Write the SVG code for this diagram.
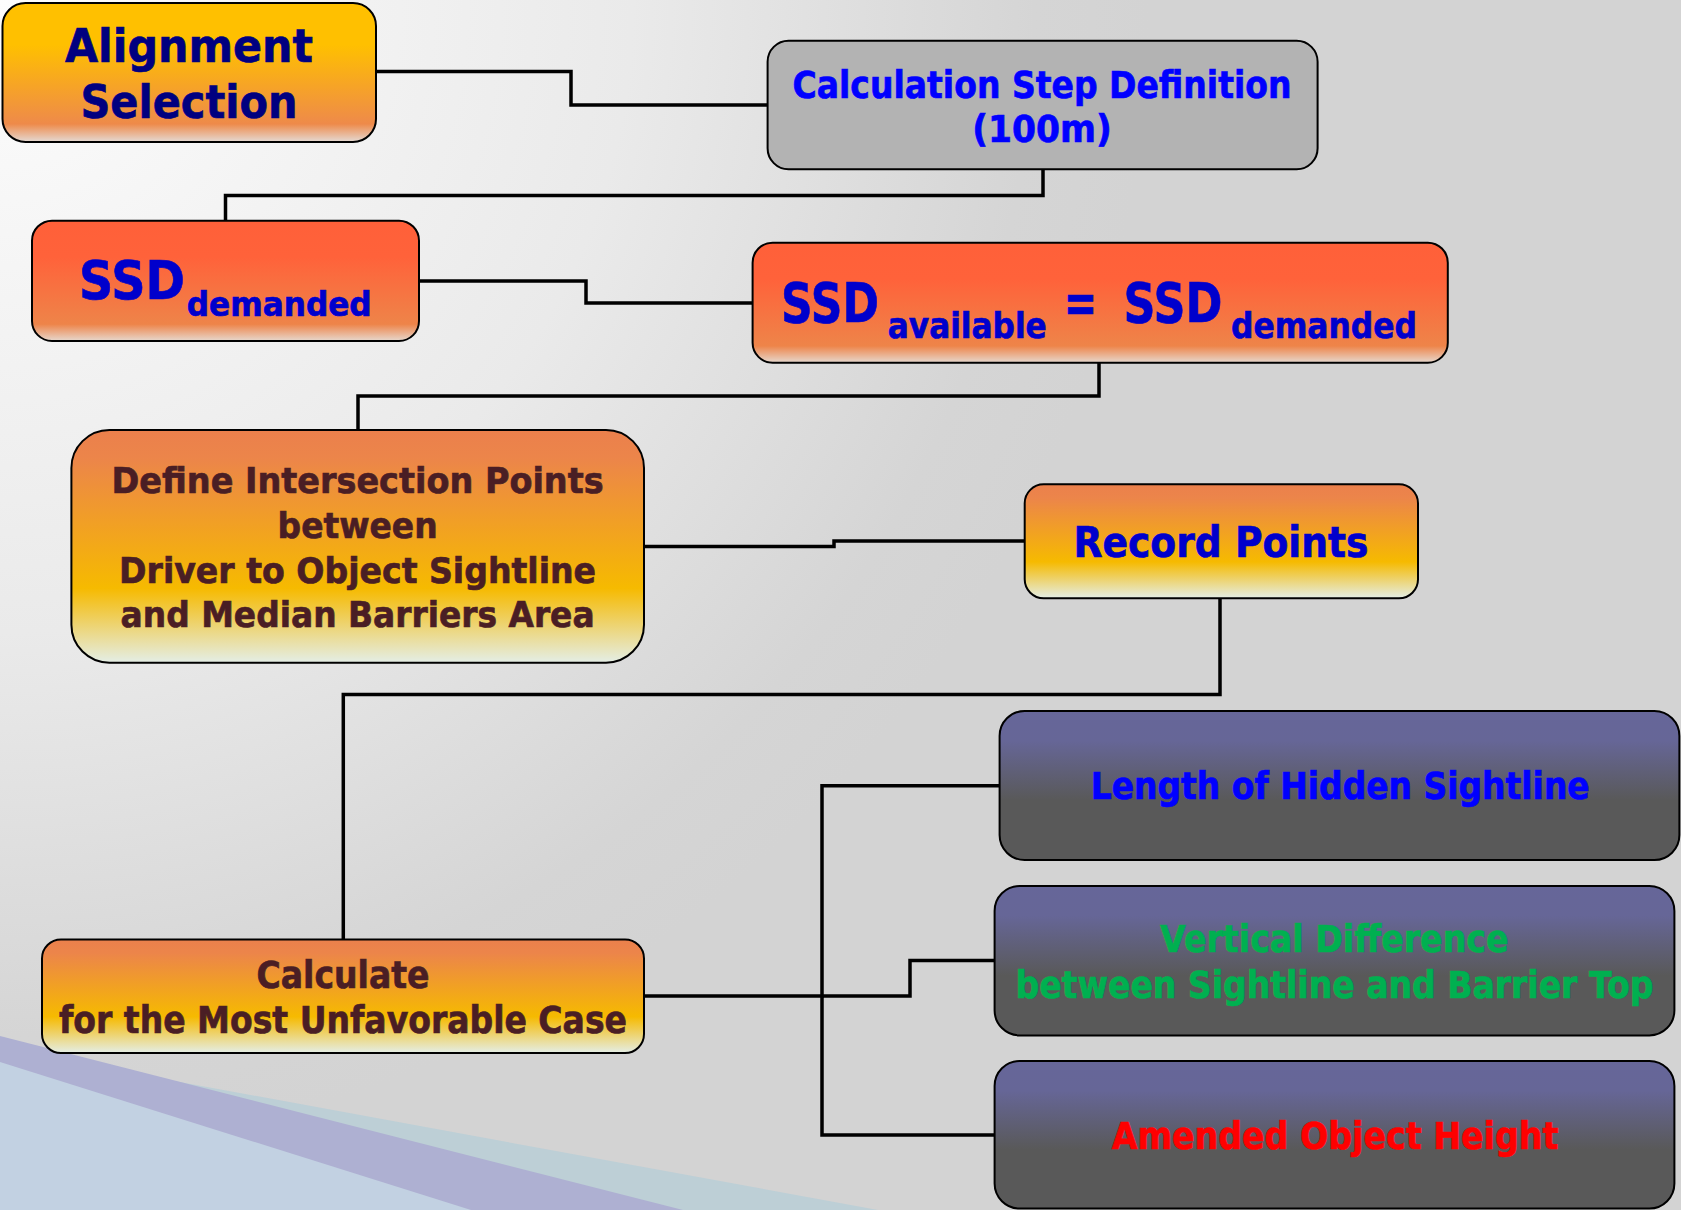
<svg xmlns="http://www.w3.org/2000/svg" width="1681" height="1210" viewBox="0 0 1681 1210">
<defs>
<radialGradient id="bg" gradientUnits="userSpaceOnUse" cx="0" cy="0" r="1150">
<stop offset="0" stop-color="#FDFDFD"/>
<stop offset="0.55" stop-color="#EAEAEA"/>
<stop offset="0.9" stop-color="#D5D5D5"/>
<stop offset="1" stop-color="#D3D3D3"/>
</radialGradient>
<linearGradient id="gAlign" x1="0" y1="0" x2="0" y2="1">
<stop offset="0" stop-color="#FFC000"/>
<stop offset="0.3" stop-color="#FFC000"/>
<stop offset="0.87" stop-color="#EE8A4A"/>
<stop offset="1" stop-color="#E4DAD4"/>
</linearGradient>
<linearGradient id="gSSD" x1="0" y1="0" x2="0" y2="1">
<stop offset="0" stop-color="#FF6039"/>
<stop offset="0.3" stop-color="#FF623A"/>
<stop offset="0.86" stop-color="#EE8449"/>
<stop offset="1" stop-color="#E6D8CE"/>
</linearGradient>
<linearGradient id="gOrange" x1="0" y1="0" x2="0" y2="1">
<stop offset="0" stop-color="#EB804C"/>
<stop offset="0.12" stop-color="#EC854A"/>
<stop offset="0.68" stop-color="#F6BA00"/>
<stop offset="1" stop-color="#E4EEE6"/>
</linearGradient>
<linearGradient id="gSlate" x1="0" y1="0" x2="0" y2="1">
<stop offset="0" stop-color="#666699"/>
<stop offset="0.2" stop-color="#666697"/>
<stop offset="0.6" stop-color="#595959"/>
<stop offset="1" stop-color="#595959"/>
</linearGradient>
<style>
.box{stroke:#000;stroke-width:2}
.t{font-family:"DejaVu Sans","Liberation Sans",sans-serif;font-weight:bold;text-anchor:middle;stroke-width:0.7;paint-order:stroke}
.tl{font-family:"DejaVu Sans","Liberation Sans",sans-serif;font-weight:bold;stroke-width:0.7;paint-order:stroke}
.con{fill:none;stroke:#000;stroke-width:3.5;stroke-linejoin:miter}
</style>
</defs>

<rect x="0" y="0" width="1681" height="1210" fill="url(#bg)"/>
<g id="decoration">
<polygon points="0,1049 878,1210 0,1210" fill="#BDCFD6"/>
<polygon points="0,1036 683,1210 0,1210" fill="#AEB0D2"/>
<polygon points="0,1062 471,1210 0,1210" fill="#C2D1E2"/>
</g>

<g id="connectors">
<polyline class="con" points="376,71.5 571,71.5 571,105 768,105"/>
<polyline class="con" points="1043,169 1043,195.5 225.5,195.5 225.5,221"/>
<polyline class="con" points="419,281 586,281 586,303 752.5,303"/>
<polyline class="con" points="1099,363 1099,396 358,396 358,430"/>
<polyline class="con" points="644,546.5 834,546.5 834,541 1024.7,541"/>
<polyline class="con" points="1220,598 1220,694.5 343.3,694.5 343.3,940"/>
<polyline class="con" points="644,996 822,996 822,785.7 999.6,785.7"/>
<polyline class="con" points="822,996 910,996 910,960.4 994.6,960.4"/>
<polyline class="con" points="822,996 822,1135 994.6,1135"/>
</g>

<g id="alignment-selection">
<rect class="box" x="2.5" y="3" width="373.5" height="139" rx="23" fill="url(#gAlign)"/>
<text class="t" fill="#000080" stroke="#000080" font-size="47"><tspan x="189" y="61.7" textLength="248" lengthAdjust="spacingAndGlyphs">Alignment</tspan><tspan x="189" y="118" textLength="217" lengthAdjust="spacingAndGlyphs">Selection</tspan></text>
</g>

<g id="calculation-step">
<rect class="box" x="767.6" y="40.7" width="550" height="128.6" rx="21" fill="#B3B3B3"/>
<text class="t" fill="#0000FF" stroke="#0000FF" font-size="37"><tspan x="1042" y="98" textLength="499" lengthAdjust="spacingAndGlyphs">Calculation Step Definition</tspan><tspan x="1042" y="141.7" textLength="139.5" lengthAdjust="spacingAndGlyphs">(100m)</tspan></text>
</g>

<g id="ssd-demanded">
<rect class="box" x="32" y="220.7" width="387" height="120.3" rx="20" fill="url(#gSSD)"/>
<text class="tl" fill="#0000CC" stroke="#0000CC"><tspan x="79" y="299" font-size="53" textLength="106" lengthAdjust="spacingAndGlyphs">SSD</tspan><tspan x="186.7" y="315.7" font-size="34" textLength="185" lengthAdjust="spacingAndGlyphs">demanded</tspan></text>
</g>

<g id="ssd-available">
<rect class="box" x="752.6" y="242.7" width="695.2" height="120" rx="20" fill="url(#gSSD)"/>
<text class="tl" fill="#0000CC" stroke="#0000CC"><tspan x="781" y="321.7" font-size="56" textLength="98" lengthAdjust="spacingAndGlyphs">SSD</tspan><tspan x="887.8" y="338" font-size="35" textLength="158.9" lengthAdjust="spacingAndGlyphs">available</tspan><tspan x="1063.7" y="321.7" font-size="56" textLength="33.3" lengthAdjust="spacingAndGlyphs">=</tspan><tspan x="1123.5" y="321.7" font-size="56" textLength="99" lengthAdjust="spacingAndGlyphs">SSD</tspan><tspan x="1231" y="338" font-size="35" textLength="186" lengthAdjust="spacingAndGlyphs">demanded</tspan></text>
</g>

<g id="define-intersection">
<rect class="box" x="71.4" y="430" width="572.6" height="232.7" rx="38" fill="url(#gOrange)"/>
<text class="t" fill="#4A1E24" stroke="#4A1E24" font-size="36"><tspan x="357.6" y="493.3" textLength="492" lengthAdjust="spacingAndGlyphs">Define Intersection Points</tspan><tspan x="357.6" y="538" textLength="160" lengthAdjust="spacingAndGlyphs">between</tspan><tspan x="357.6" y="582.7" textLength="477" lengthAdjust="spacingAndGlyphs">Driver to Object Sightline</tspan><tspan x="357.6" y="626.7" textLength="474" lengthAdjust="spacingAndGlyphs">and Median Barriers Area</tspan></text>
</g>

<g id="record-points">
<rect class="box" x="1024.7" y="484.3" width="393.3" height="114" rx="19" fill="url(#gOrange)"/>
<text class="t" fill="#0000CC" stroke="#0000CC" font-size="42" x="1221" y="557.3" textLength="295" lengthAdjust="spacingAndGlyphs">Record Points</text>
</g>

<g id="calculate">
<rect class="box" x="42" y="939.5" width="602" height="113.5" rx="19" fill="url(#gOrange)"/>
<text class="t" fill="#4A1E24" stroke="#4A1E24" font-size="37"><tspan x="343" y="988" textLength="173" lengthAdjust="spacingAndGlyphs">Calculate</tspan><tspan x="343" y="1033" textLength="568" lengthAdjust="spacingAndGlyphs">for the Most Unfavorable Case</tspan></text>
</g>

<g id="length-hidden-sightline">
<rect class="box" x="999.6" y="711" width="679.8" height="149" rx="25" fill="url(#gSlate)"/>
<text class="t" fill="#0000FF" stroke="#0000FF" font-size="37" x="1340.2" y="799" textLength="499" lengthAdjust="spacingAndGlyphs">Length of Hidden Sightline</text>
</g>

<g id="vertical-difference">
<rect class="box" x="994.6" y="886" width="679.8" height="149.4" rx="25" fill="url(#gSlate)"/>
<text class="t" fill="#00B050" stroke="#00B050" font-size="37"><tspan x="1334.3" y="952" textLength="348.6" lengthAdjust="spacingAndGlyphs">Vertical Difference</tspan><tspan x="1334.5" y="997.6" textLength="638" lengthAdjust="spacingAndGlyphs">between Sightline and Barrier Top</tspan></text>
</g>

<g id="amended-object-height">
<rect class="box" x="994.6" y="1061" width="679.8" height="147.5" rx="25" fill="url(#gSlate)"/>
<text class="t" fill="#FF0000" stroke="#FF0000" font-size="37" x="1335" y="1149" textLength="446.7" lengthAdjust="spacingAndGlyphs">Amended Object Height</text>
</g>
</svg>
